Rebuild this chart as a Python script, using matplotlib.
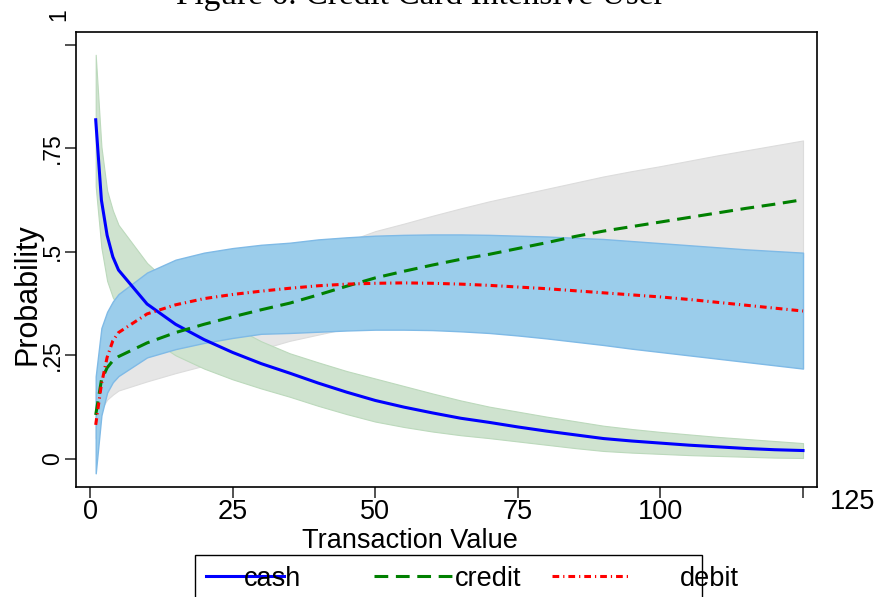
import matplotlib
matplotlib.use("Agg")
import matplotlib.pyplot as plt

# transaction values at which the predicted probabilities were evaluated
value = [1, 2, 3, 4, 5, 10, 15, 20, 25, 30, 35, 40, 45, 50, 55, 60, 65, 70,
         75, 80, 85, 90, 95, 100, 105, 110, 115, 120, 125]

cash = [0.819, 0.625, 0.540, 0.488, 0.456, 0.374, 0.325, 0.288, 0.257, 0.230,
        0.207, 0.183, 0.161, 0.141, 0.125, 0.111, 0.098, 0.088, 0.077, 0.067,
        0.058, 0.049, 0.043, 0.038, 0.033, 0.029, 0.025, 0.022, 0.020]
cash_hi = [0.976, 0.754, 0.648, 0.600, 0.565, 0.473, 0.410, 0.362, 0.320, 0.284,
           0.255, 0.233, 0.212, 0.194, 0.176, 0.158, 0.141, 0.126, 0.114, 0.102,
           0.091, 0.080, 0.072, 0.065, 0.059, 0.053, 0.048, 0.043, 0.038]
cash_lo = [0.658, 0.510, 0.430, 0.390, 0.365, 0.295, 0.250, 0.218, 0.192, 0.170,
           0.150, 0.128, 0.108, 0.090, 0.077, 0.066, 0.057, 0.050, 0.042, 0.034,
           0.026, 0.019, 0.015, 0.012, 0.009, 0.007, 0.005, 0.003, 0.002]

credit = [0.106, 0.190, 0.220, 0.237, 0.247, 0.280, 0.305, 0.325, 0.343, 0.360,
          0.376, 0.396, 0.417, 0.437, 0.453, 0.468, 0.482, 0.494, 0.508, 0.522,
          0.537, 0.550, 0.561, 0.572, 0.583, 0.594, 0.605, 0.615, 0.626]
credit_hi = [0.160, 0.260, 0.300, 0.320, 0.330, 0.370, 0.400, 0.420, 0.440, 0.460,
             0.480, 0.500, 0.525, 0.550, 0.568, 0.587, 0.605, 0.622, 0.637, 0.652,
             0.667, 0.682, 0.695, 0.707, 0.720, 0.733, 0.745, 0.757, 0.769]
credit_lo = [0.050, 0.120, 0.143, 0.155, 0.165, 0.187, 0.207, 0.225, 0.245, 0.265,
             0.285, 0.300, 0.315, 0.330, 0.340, 0.350, 0.360, 0.370, 0.380, 0.390,
             0.400, 0.415, 0.425, 0.437, 0.447, 0.457, 0.467, 0.477, 0.487]

debit = [0.082, 0.180, 0.245, 0.285, 0.305, 0.350, 0.372, 0.387, 0.397, 0.405,
         0.412, 0.418, 0.422, 0.424, 0.425, 0.424, 0.422, 0.419, 0.415, 0.411,
         0.406, 0.401, 0.396, 0.391, 0.385, 0.378, 0.371, 0.364, 0.357]
debit_hi = [0.199, 0.316, 0.355, 0.380, 0.398, 0.450, 0.481, 0.498, 0.509, 0.517,
            0.522, 0.530, 0.535, 0.539, 0.541, 0.542, 0.542, 0.541, 0.539, 0.537,
            0.534, 0.531, 0.526, 0.521, 0.516, 0.511, 0.506, 0.502, 0.498]
debit_lo = [-0.035, 0.105, 0.160, 0.185, 0.200, 0.245, 0.265, 0.280, 0.292, 0.302,
            0.304, 0.307, 0.310, 0.312, 0.312, 0.311, 0.308, 0.304, 0.298, 0.291,
            0.283, 0.275, 0.266, 0.258, 0.250, 0.242, 0.234, 0.226, 0.218]

x_ticks = [0, 25, 50, 75, 100, 125]
y_ticks = [0, 0.25, 0.5, 0.75, 1]
x_ticklabels = ["0", "25", "50", "75", "100", "125"]
y_ticklabels = ["0", ".25", ".5", ".75", "1"]

SANS = ["Liberation Sans", "DejaVu Sans"]

fig = plt.figure(figsize=(8.82, 5.97), dpi=100)
ax = fig.add_axes([0.0862, 0.1843, 0.8401, 0.7621])

# confidence bands
ax.fill_between(value, credit_lo, credit_hi, facecolor="#e6e6e6",
                edgecolor="#dcdcdc", linewidth=0.8, zorder=1)
ax.fill_between(value, cash_lo, cash_hi, facecolor="#cfe3cf",
                edgecolor="#bcd9bc", linewidth=0.8, zorder=2)
ax.fill_between(value, debit_lo, debit_hi, facecolor="#9bcdeb",
                edgecolor="#7fbae6", linewidth=1.0, zorder=3)

# predicted probabilities
ax.plot(value, cash, color="#0000ff", lw=2.2, label="cash", zorder=4)
ax.plot(value, credit, color="#008000", lw=2.2, dashes=(4.5, 2.5),
        label="credit", zorder=5)
ax.plot(value, debit, color="#ff0000", lw=2.2, dashes=(2.2, 1.3, 0.4, 1.3),
        label="debit", zorder=6)

ax.set_xlim(-2.45, 127.45)
ax.set_ylim(-0.068, 1.031)

for side in ax.spines.values():
    side.set_linewidth(1.2)
    side.set_color("black")

ax.set_xticks(x_ticks)
ax.set_xticklabels(x_ticklabels[:-1] + [""], family=SANS, fontsize=19.5)
ax.set_yticks(y_ticks)
ax.set_yticklabels(y_ticklabels[:-1] + [""], family=SANS, fontsize=16.5,
                   rotation=90, va="center")
ax.tick_params(axis="both", direction="out", length=8, width=1.2, color="#333333")
ax.tick_params(axis="x", pad=1)
ax.tick_params(axis="y", pad=0.5)

# the outer tick labels are pushed off their ticks in the original
ax.text(133.6, -0.0725, x_ticklabels[-1], family=SANS, fontsize=19.5,
        ha="center", va="top", clip_on=False)
ax.text(-3.5, 1.072, y_ticklabels[-1], family=SANS, fontsize=16.5, rotation=90,
        ha="right", va="center", clip_on=False)

ax.set_xlabel("Transaction Value", family=SANS, fontsize=19.5)
ax.xaxis.set_label_coords(0.451, -0.134)
ax.xaxis.label.set_va("baseline")
ax.set_ylabel("Probability", family=SANS, fontsize=22)
ax.yaxis.set_label_coords(-0.066, 0.424)
ax.yaxis.label.set_va("center")

fig.text(420 / 882, 1 - 4 / 597, "Figure 6: Credit Card Intensive User",
         family=["Liberation Serif", "DejaVu Serif"], fontsize=24,
         ha="center", va="baseline")

leg = fig.legend(loc="upper left", bbox_to_anchor=(195 / 882, 1 - 555 / 597),
                 ncol=3, prop={"family": SANS, "size": 19.5}, frameon=True,
                 fancybox=False, edgecolor="black", framealpha=1,
                 handlelength=2.88, handletextpad=0.11, columnspacing=1.11,
                 borderaxespad=0, borderpad=0.4)
leg.get_frame().set_linewidth(1.0)
for line in leg.get_lines():
    line.set_linewidth(2.2)
# label offsets as in the original layout (cash overlaps its key, debit sits far right)
leg.get_texts()[0].set_position((-43, 0))
leg.get_texts()[2].set_position((47, 0))

fig.savefig("out.png", dpi=100)
